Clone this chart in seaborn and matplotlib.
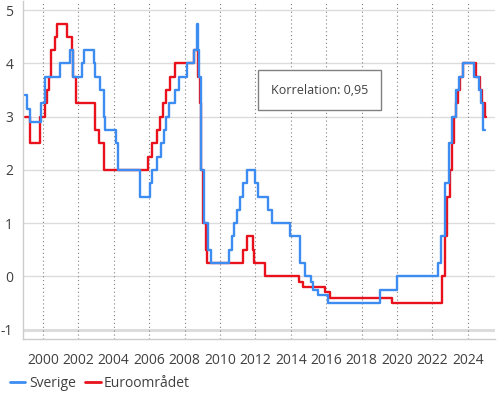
import matplotlib
matplotlib.use("Agg")
import matplotlib.pyplot as plt
from matplotlib.lines import Line2D
import seaborn as sns
import pandas as pd

# Styrräntor, datum för ändring och ny nivå (%)
se_dates = ['1999-01-04', '1999-02-17', '1999-03-31', '1999-11-17', '2000-02-09', '2000-12-13',
            '2001-07-11', '2001-09-19', '2002-03-20', '2002-04-26', '2002-11-20', '2002-12-11',
            '2003-03-19', '2003-06-11', '2003-07-09', '2004-02-11', '2004-04-07', '2005-06-29',
            '2006-01-25', '2006-03-01', '2006-06-21', '2006-09-06', '2006-10-25', '2006-12-20',
            '2007-02-21', '2007-06-27', '2007-09-12', '2008-02-20', '2008-07-09', '2008-09-10',
            '2008-10-08', '2008-10-29', '2008-12-10', '2009-02-11', '2009-04-21', '2009-07-08',
            '2010-07-07', '2010-09-01', '2010-10-27', '2010-12-15', '2011-02-16', '2011-04-20',
            '2011-07-06', '2011-12-20', '2012-02-15', '2012-09-12', '2012-12-19', '2013-12-18',
            '2014-07-09', '2014-10-29', '2015-02-18', '2015-03-25', '2015-07-08', '2016-02-17',
            '2019-01-09', '2020-01-08', '2022-05-04', '2022-07-06', '2022-09-21', '2022-11-30',
            '2023-02-15', '2023-04-26', '2023-07-05', '2023-09-27', '2024-05-15', '2024-08-28',
            '2024-10-02', '2024-11-13', '2024-12-24']
se_rate = [3.40, 3.15, 2.90, 3.25, 3.75, 4.00,
           4.25, 3.75, 4.00, 4.25, 4.00, 3.75,
           3.50, 3.00, 2.75, 2.50, 2.00, 1.50,
           1.75, 2.00, 2.25, 2.50, 2.75, 3.00,
           3.25, 3.50, 3.75, 4.00, 4.25, 4.75,
           4.25, 3.75, 2.00, 1.00, 0.50, 0.25,
           0.50, 0.75, 1.00, 1.25, 1.50, 1.75,
           2.00, 1.75, 1.50, 1.25, 1.00, 0.75,
           0.25, 0.00, -0.10, -0.25, -0.35, -0.50,
           -0.25, 0.00, 0.25, 0.75, 1.75, 2.50,
           3.00, 3.50, 3.75, 4.00, 3.75, 3.50,
           3.25, 2.75, 2.75]

ez_dates = ['1999-01-04', '1999-04-09', '1999-11-05', '2000-02-04', '2000-03-17', '2000-04-28',
            '2000-06-09', '2000-09-06', '2000-10-11', '2001-05-11', '2001-08-31', '2001-09-18',
            '2001-11-09', '2002-12-06', '2003-03-07', '2003-06-06', '2005-12-06', '2006-03-08',
            '2006-06-15', '2006-08-09', '2006-10-11', '2006-12-13', '2007-03-14', '2007-06-13',
            '2008-07-09', '2008-10-15', '2008-11-12', '2008-12-10', '2009-01-21', '2009-03-11',
            '2009-04-08', '2011-04-13', '2011-07-13', '2011-11-09', '2011-12-14', '2012-07-11',
            '2014-06-11', '2014-09-10', '2015-12-09', '2016-03-16', '2019-09-18', '2022-07-27',
            '2022-09-14', '2022-11-02', '2022-12-21', '2023-02-08', '2023-03-22', '2023-05-10',
            '2023-06-21', '2023-08-02', '2023-09-20', '2024-06-12', '2024-09-18', '2024-10-23',
            '2024-12-18', '2024-12-31']
ez_rate = [3.00, 2.50, 3.00, 3.25, 3.50, 3.75,
           4.25, 4.50, 4.75, 4.50, 4.25, 3.75,
           3.25, 2.75, 2.50, 2.00, 2.25, 2.50,
           2.75, 3.00, 3.25, 3.50, 3.75, 4.00,
           4.25, 3.75, 3.25, 2.00, 1.00, 0.50,
           0.25, 0.50, 0.75, 0.50, 0.25, 0.00,
           -0.10, -0.20, -0.30, -0.40, -0.50, 0.00,
           0.75, 1.50, 2.00, 2.50, 3.00, 3.25,
           3.50, 3.75, 4.00, 3.75, 3.50, 3.25,
           3.00, 3.00]

tick_years = list(range(2000, 2025, 2))
y_ticks = [-1, 0, 1, 2, 3, 4, 5]
annotation = 'Korrelation: 0,95'

se_df = pd.DataFrame({'datum': pd.to_datetime(se_dates), 'ranta': se_rate})
ez_df = pd.DataFrame({'datum': pd.to_datetime(ez_dates), 'ranta': ez_rate})

blue = '#3C8CF2'
red = '#E8111C'
txt = '#404040'

sns.set_style('white')
plt.rcParams['font.family'] = ['Open Sans', 'DejaVu Sans']

fig = plt.figure(figsize=(4.98, 3.93), dpi=100)
ax = fig.add_axes([0.046, 0.137, 0.948, 0.86])

for yv in y_ticks:
    ax.axhline(yv, color='#dcdcdc', lw=2.2 if yv == -1 else 1.0, zorder=0)
for yr in tick_years:
    ax.axvline(pd.Timestamp(f'{yr}-01-01'), color='#808080', lw=0.8,
               linestyle=(0, (1, 2.5)), zorder=0.5)

sns.lineplot(data=ez_df, x='datum', y='ranta', ax=ax, color=red, lw=1.7,
             drawstyle='steps-post', estimator=None, zorder=2)
sns.lineplot(data=se_df, x='datum', y='ranta', ax=ax, color=blue, lw=1.7,
             drawstyle='steps-post', estimator=None, zorder=3)

ax.set_xlim(pd.Timestamp('1998-11-15'), pd.Timestamp('2025-07-15'))
ax.set_ylim(-1.18, 5.17)
ax.set_xticks([pd.Timestamp(f'{y}-01-01') for y in tick_years])
ax.set_xticklabels([str(y) for y in tick_years])
ax.set_yticks(y_ticks)
ax.set_yticklabels([str(v) for v in y_ticks])
ax.set_xlabel('')
ax.set_ylabel('')
ax.tick_params(axis='both', labelsize=10, colors=txt)
ax.tick_params(axis='x', length=4, width=0.8, color='#404040', pad=6)
ax.tick_params(axis='y', length=4, width=0.8, color='#cccccc', pad=3)

for s in ['top', 'right']:
    ax.spines[s].set_visible(False)
for s in ['left', 'bottom']:
    ax.spines[s].set_color('#cccccc')
    ax.spines[s].set_linewidth(1.0)

ax.text(0.628, 0.737, annotation, transform=ax.transAxes, ha='center', va='center',
        fontsize=9, color=txt,
        bbox=dict(boxstyle='square,pad=1.05', fc='white', ec='#808080', lw=1.0), zorder=5)

handles = [Line2D([], [], color=blue, lw=2), Line2D([], [], color=red, lw=2)]
fig.legend(handles, ['Sverige', 'Euroområdet'], loc='center left',
           bbox_to_anchor=(-0.005, 0.025), ncol=2, frameon=False, fontsize=10,
           handlelength=1.1, handletextpad=0.25, columnspacing=0.7, labelcolor=txt)

fig.savefig('out.png', dpi=100)
